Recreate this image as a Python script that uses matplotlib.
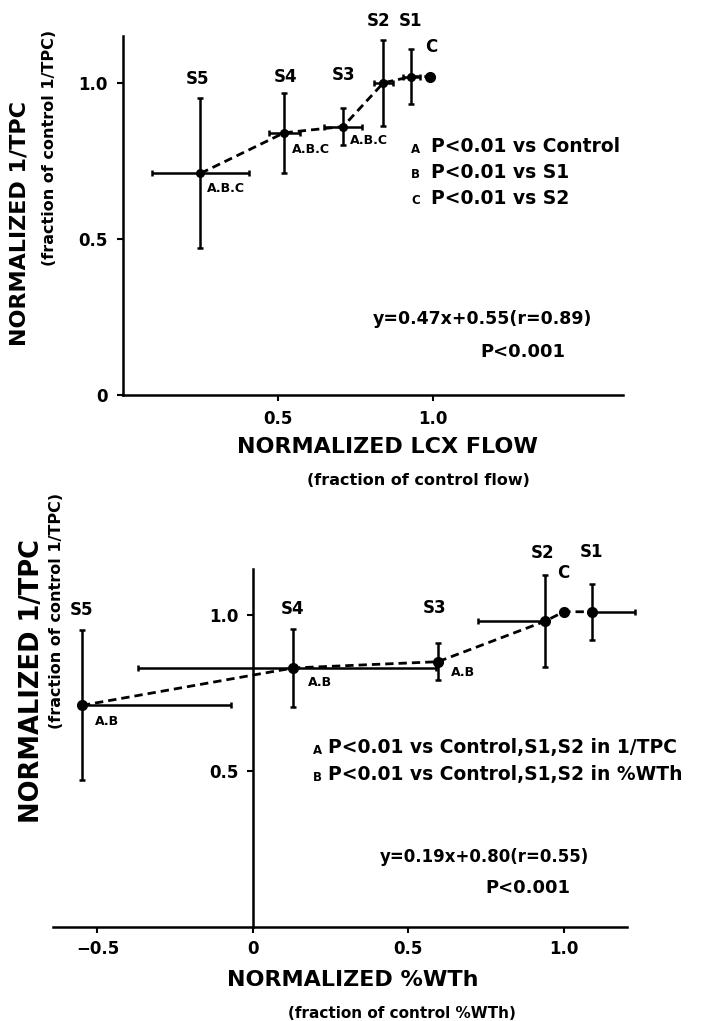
import matplotlib
matplotlib.use("Agg")
import matplotlib.pyplot as plt

plt.rcParams['font.family'] = ['DejaVu Sans']
plt.rcParams['font.weight'] = 'bold'

# ---------------- data: top panel (LCX flow vs 1/TPC) ----------------
top_labels = ['S5', 'S4', 'S3', 'S2', 'S1', 'C']
top_x = [0.25, 0.52, 0.71, 0.84, 0.93, 0.99]
top_y = [0.71, 0.84, 0.86, 1.00, 1.02, 1.02]
top_xerr = [0.155, 0.05, 0.06, 0.03, 0.028, 0.0]
top_yerr = [0.24, 0.128, 0.058, 0.138, 0.088, 0.0]
top_sig = ['A.B.C', 'A.B.C', 'A.B.C', '', '', '']
top_legend_keys = ['A', 'B', 'C']
top_legend_text = ['P<0.01 vs Control', 'P<0.01 vs S1', 'P<0.01 vs S2']
top_eq = 'y=0.47x+0.55(r=0.89)'
top_p = 'P<0.001'
top_xticks = [0.5, 1.0]
top_xticklabels = ['0.5', '1.0']
top_yticks = [0, 0.5, 1.0]
top_yticklabels = ['0', '0.5', '1.0']

# ---------------- data: bottom panel (%WTh vs 1/TPC) ----------------
bot_labels = ['S5', 'S4', 'S3', 'S2', 'C', 'S1']
bot_x = [-0.55, 0.13, 0.595, 0.94, 1.00, 1.09]
bot_y = [0.71, 0.83, 0.85, 0.98, 1.01, 1.01]
bot_yerr = [0.24, 0.126, 0.059, 0.148, 0.0, 0.09]
bot_xerr_minus = [0.0, 0.50, 0.0, 0.215, 0.0, 0.0]
bot_xerr_plus = [0.48, 0.46, 0.0, 0.0, 0.0, 0.14]
bot_sig = ['A.B', 'A.B', 'A.B', '', '', '']
bot_legend_keys = ['A', 'B']
bot_legend_text = ['P<0.01 vs Control,S1,S2 in 1/TPC',
                   'P<0.01 vs Control,S1,S2 in %WTh']
bot_eq = 'y=0.19x+0.80(r=0.55)'
bot_p = 'P<0.001'
bot_xticks = [-0.5, 0, 0.5, 1.0]
bot_xticklabels = ['\u22120.5', '0', '0.5', '1.0']
bot_yticks = [0.5, 1.0]
bot_yticklabels = ['0.5', '1.0']

W, H = 707, 1021
fig = plt.figure(figsize=(W / 100, H / 100), dpi=100)
fig.patch.set_facecolor('white')


def fx(px):
    return px / W


def fy(py):
    return 1 - py / H


def style_axes(ax):
    for s in ['top', 'right']:
        ax.spines[s].set_visible(False)
    for s in ['left', 'bottom']:
        ax.spines[s].set_linewidth(1.8)
        ax.spines[s].set_color('black')
    ax.tick_params(direction='out', length=4, width=1.5, labelsize=12,
                   colors='black')
    ax.patch.set_alpha(0)


def draw_points(ax, xs, ys, xerr, yerr):
    # dashed connecting line (ordered by x)
    ax.plot(xs, ys, linestyle=(0, (3, 1.8)), color='black', lw=2.0, zorder=2)
    eb = ax.errorbar(xs, ys, xerr=xerr, yerr=yerr, fmt='none', ecolor='black',
                     elinewidth=1.8, capsize=2.5, capthick=1.8, zorder=3)
    for art in eb.lines[1] + eb.lines[2]:
        art.set_clip_on(False)
    for art in eb.lines[2]:
        art.set_clip_on(False)


# ---------------- top axes ----------------
ax1 = fig.add_axes([fx(123), fy(395), fx(500), 359 / H])
ax1.set_xlim(0, 1.613)
ax1.set_ylim(0, 1.15)
style_axes(ax1)
ax1.set_xticks(top_xticks)
ax1.set_xticklabels(top_xticklabels, fontweight='bold')
ax1.set_yticks(top_yticks)
ax1.set_yticklabels(top_yticklabels, fontweight='bold')
ax1.tick_params(axis='x', pad=7)
ax1.tick_params(axis='y', pad=7)

draw_points(ax1, top_x, top_y, top_xerr, top_yerr)
ax1.plot(top_x[:-1], top_y[:-1], 'o', color='black', ms=5.5, zorder=4)
ax1.plot(top_x[-1:], top_y[-1:], 'o', color='black', ms=7, zorder=4)

top_label_pos = [(0.239, 1.013), (0.523, 1.019), (0.710, 1.026),
                 (0.823, 1.199), (0.929, 1.199), (0.994, 1.115)]
for lab, (tx, ty) in zip(top_labels, top_label_pos):
    ax1.text(tx, ty, lab, ha='center', va='center', fontsize=12,
             fontweight='bold', clip_on=False)

top_sig_pos = [(0.271, 0.660), (0.545, 0.788), (0.732, 0.814)]
for lab, (tx, ty) in zip(top_sig, top_sig_pos):
    ax1.text(tx, ty, lab, ha='left', va='center', fontsize=9,
             fontweight='bold')

for i, (k, t) in enumerate(zip(top_legend_keys, top_legend_text)):
    yy = 0.795 - i * 0.082
    ax1.text(0.929, yy - 0.008, k, ha='left', va='center', fontsize=8.5,
             fontweight='bold')
    ax1.text(0.994, yy, t, ha='left', va='center', fontsize=13.5,
             fontweight='bold')

ax1.text(0.806, 0.244, top_eq, ha='left', va='center', fontsize=12.5,
         fontweight='bold')
ax1.text(1.152, 0.138, top_p, ha='left', va='center', fontsize=13,
         fontweight='bold')

fig.text(fx(387), fy(447), 'NORMALIZED LCX FLOW', ha='center', va='center',
         fontsize=16, fontweight='bold')
fig.text(fx(418), fy(480), '(fraction of control flow)', ha='center',
         va='center', fontsize=11.5, fontweight='bold')
fig.text(fx(20), fy(223), 'NORMALIZED 1/TPC', ha='center', va='center',
         rotation=90, fontsize=16, fontweight='bold')
fig.text(fx(50), fy(148), '(fraction of control 1/TPC)', ha='center',
         va='center', rotation=90, fontsize=11.5, fontweight='bold')

# ---------------- bottom axes ----------------
ax2 = fig.add_axes([fx(53), fy(927), fx(574), 358 / H])
ax2.set_xlim(-0.643, 1.203)
ax2.set_ylim(0, 1.147)
style_axes(ax2)
ax2.spines['left'].set_position(('data', 0))
ax2.set_xticks(bot_xticks)
ax2.set_xticklabels(bot_xticklabels, fontweight='bold')
ax2.set_yticks(bot_yticks)
ax2.set_yticklabels(bot_yticklabels, fontweight='bold')
ax2.tick_params(axis='x', pad=5)
ax2.tick_params(axis='y', pad=6)

draw_points(ax2, bot_x, bot_y, [bot_xerr_minus, bot_xerr_plus], bot_yerr)
ax2.plot(bot_x, bot_y, 'o', color='black', ms=7, zorder=4, clip_on=False)

bot_label_pos = [(-0.550, 1.016), (0.129, 1.019), (0.585, 1.022),
                 (0.932, 1.199), (0.997, 1.135), (1.090, 1.202)]
for lab, (tx, ty) in zip(bot_labels, bot_label_pos):
    ax2.text(tx, ty, lab, ha='center', va='center', fontsize=12,
             fontweight='bold', clip_on=False)

bot_sig_pos = [(-0.508, 0.657), (0.177, 0.782), (0.637, 0.814)]
for lab, (tx, ty) in zip(bot_sig, bot_sig_pos):
    ax2.text(tx, ty, lab, ha='left', va='center', fontsize=9,
             fontweight='bold')

for i, (k, t) in enumerate(zip(bot_legend_keys, bot_legend_text)):
    yy = 0.574 - i * 0.087
    ax2.text(0.193, yy - 0.008, k, ha='left', va='center', fontsize=8.5,
             fontweight='bold')
    ax2.text(0.241, yy, t, ha='left', va='center', fontsize=13.5,
             fontweight='bold', clip_on=False)

ax2.text(0.408, 0.224, bot_eq, ha='left', va='center', fontsize=12,
         fontweight='bold')
ax2.text(0.749, 0.125, bot_p, ha='left', va='center', fontsize=13,
         fontweight='bold')

fig.text(fx(353), fy(980), 'NORMALIZED %WTh', ha='center', va='center',
         fontsize=16, fontweight='bold')
fig.text(fx(402), fy(1013), '(fraction of control %WTh)', ha='center',
         va='center', fontsize=11, fontweight='bold')
fig.text(fx(32), fy(681), 'NORMALIZED 1/TPC', ha='center', va='center',
         rotation=90, fontsize=18.5, fontweight='bold')
fig.text(fx(57), fy(611), '(fraction of control 1/TPC)', ha='center',
         va='center', rotation=90, fontsize=11.5, fontweight='bold')

fig.savefig('out.png', dpi=100, facecolor='white')
